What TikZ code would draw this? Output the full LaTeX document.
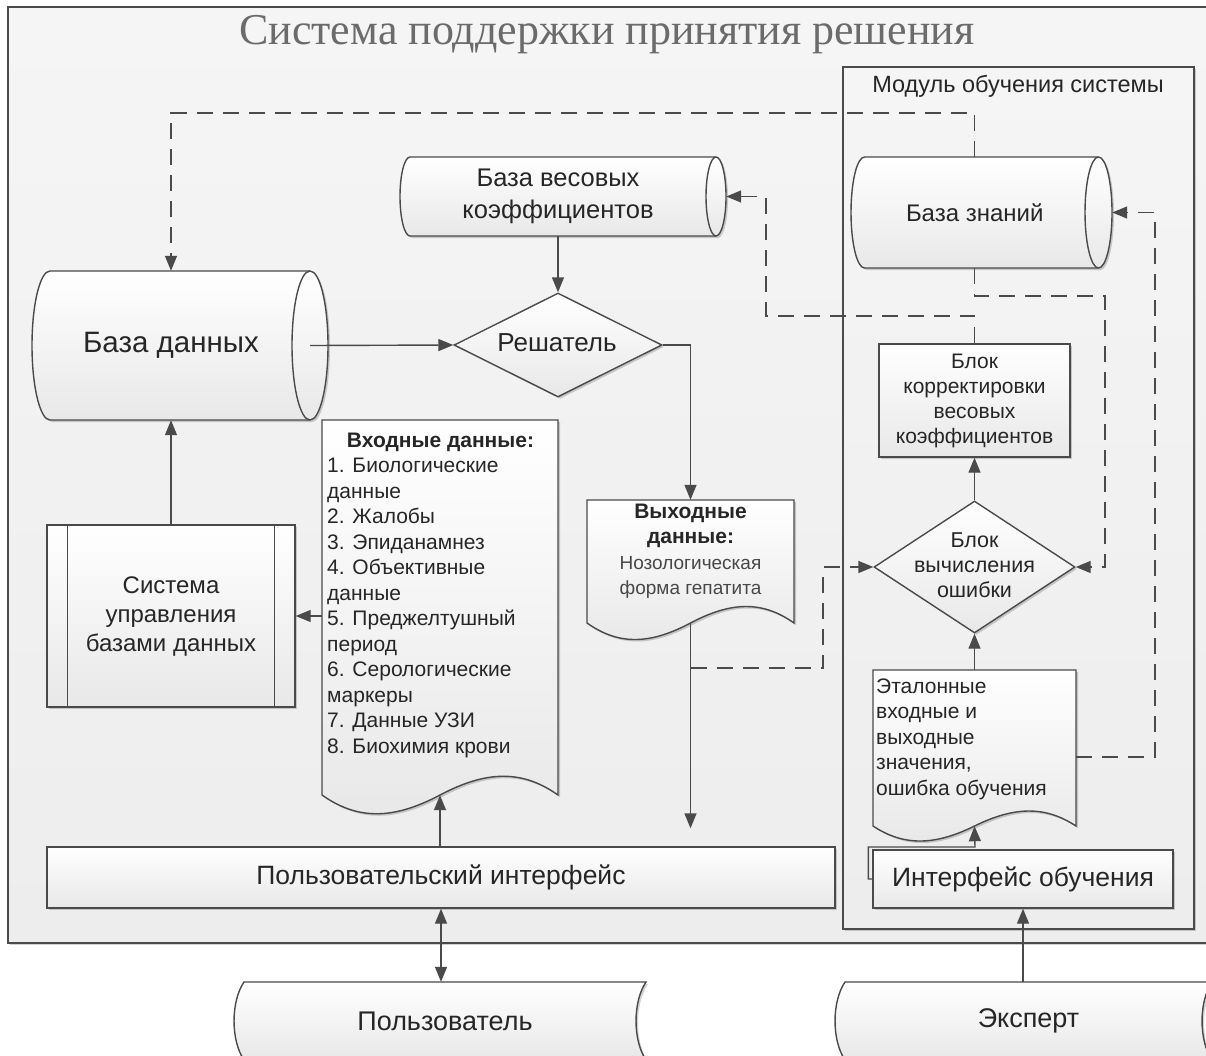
\documentclass[tikz,border=0pt]{standalone}
\usepackage{fontspec}
\setmainfont{Liberation Sans}
\newfontfamily\titlefont{Liberation Serif}
\usetikzlibrary{arrows.meta,shapes.geometric,calc,shadows}
\definecolor{lc}{HTML}{4A4A4A}
\definecolor{tc}{HTML}{262626}
\definecolor{gf}{HTML}{E8E8E8}
\definecolor{bgt}{HTML}{F5F5F5}
\definecolor{bgb}{HTML}{EDEDED}
\newcommand\fsz[2]{\fontsize{#1}{#2}\selectfont}
\tikzset{
  line/.style={draw=lc, line width=1.4pt},
  shd/.style={drop shadow={shadow xshift=2pt, shadow yshift=-2pt, opacity=0.18, fill=black}},
  shapefill/.style={top color=white, bottom color=gf, shd},
  txt/.style={text=tc, inner sep=0pt, align=center},
  arr/.style={line, -{Triangle[length=15pt,width=12pt]}},
  arrb/.style={line, {Triangle[length=15pt,width=12pt]}-{Triangle[length=15pt,width=12pt]}},
  dline/.style={line, dash pattern=on 16pt off 10pt},
  box/.style={line, shapefill, rectangle, inner sep=0pt, text=tc, align=center},
}
% cylinder: name, L, T, R, B, rx, options, text
\newcommand\cylnode[8]{%
  \path[line,shapefill] ({#2+#6},#3) .. controls ({#2+#6*0.4477},#3) and (#2,{(#3+#5)/2-0.5523*(#5-#3)/2}) .. (#2,{(#3+#5)/2})
    .. controls (#2,{(#3+#5)/2+0.5523*(#5-#3)/2}) and ({#2+#6*0.4477},#5) .. ({#2+#6},#5)
    -- ({#4-#6},#5) .. controls ({#4-#6*0.4477},#5) and (#4,{(#3+#5)/2+0.5523*(#5-#3)/2}) .. (#4,{(#3+#5)/2})
    .. controls (#4,{(#3+#5)/2-0.5523*(#5-#3)/2}) and ({#4-#6*0.4477},#3) .. ({#4-#6},#3) -- cycle;
  \draw[line] ({#4-#6},#3) .. controls ({#4-#6-0.5523*#6},#3) and ({#4-2*#6},{(#3+#5)/2-0.5523*(#5-#3)/2}) .. ({#4-2*#6},{(#3+#5)/2})
    .. controls ({#4-2*#6},{(#3+#5)/2+0.5523*(#5-#3)/2}) and ({#4-#6-0.5523*#6},#5) .. ({#4-#6},#5);
  \node[txt,#7,minimum width={(#4-#6-#2)*1pt},minimum height={(#5-#3)*1pt}] (#1) at ({(#2+#4-#6)/2},{(#3+#5)/2}) {#8};
}
% document: name, L, T, R, B, h
\newcommand\docnode[6]{%
  \path[line,shapefill] (#2,#3) -- (#4,#3) -- (#4,#5)
    .. controls ({#4-0.15*(#4-#2)},{#5-#6}) and ({#4-0.3*(#4-#2)},{#5-#6}) .. ({(#2+#4)/2},#5)
    .. controls ({#2+0.3*(#4-#2)},{#5+#6}) and ({#2+0.15*(#4-#2)},{#5+#6}) .. (#2,#5) -- cycle;
  \node[inner sep=0pt,minimum width={(#4-#2)*1pt},minimum height={(#5-#3)*1pt}] (#1) at ({(#2+#4)/2},{(#3+#5)/2}) {};
}
% stored data: name, L, T, R, B, bulge, text
\newcommand\storenode[7]{%
  \path[line,shapefill] (#2,#3) -- (#4,#3)
    .. controls ({#4-1.33*#6},{#3+(#5-#3)/4}) and ({#4-1.33*#6},{#5-(#5-#3)/4}) .. (#4,#5) -- (#2,#5)
    .. controls ({#2-1.33*#6},{#5-(#5-#3)/4}) and ({#2-1.33*#6},{#3+(#5-#3)/4}) .. (#2,#3) -- cycle;
  \node[txt,font=\fsz{27}{30},minimum width={(#4-#2)*1pt},minimum height={(#5-#3)*1pt}] (#1) at ({(#2+#4)/2},{(#3+#5)/2}) {#7};
}
\begin{document}
\begin{tikzpicture}[x=1pt,y=-1pt]
\useasboundingbox (0,0) rectangle (1206,1055);
% frames
\node[line, top color=bgt, bottom color=bgb, shd, minimum width=1207pt, minimum height=936pt, inner sep=0pt] (sys) at (611.5,475) {};
\node[font=\titlefont\fsz{44}{48}, text=tc!68, inner sep=0pt] (title) at (607,35) {Система поддержки принятия решения};
\node[line, top color=bgt, bottom color=bgb, shd, minimum width=351pt, minimum height=862pt, inner sep=0pt] (mod) at (1018.5,498) {};
\node[txt, font=\fsz{23.5}{26}] (modlab) at (1018,86) {Модуль обучения системы};

% cylinders
\cylnode{bvk}{400}{157}{726}{236}{10}{font=\fsz{25.5}{32}}{База весовых\\коэффициентов}
\cylnode{bz}{851}{157}{1112}{268}{13.5}{font=\fsz{24}{28}}{База знаний}
\cylnode{bd}{32}{271}{328}{420}{18}{font=\fsz{29.5}{34}}{База данных}

% diamonds
\node[line, shapefill, diamond, minimum width=208pt, minimum height=104pt, inner sep=0pt] (resh) at (558,345) {};
\node[txt, font=\fsz{26}{30}] (resh-t) at (557,343) {Решатель};
\node[line, shapefill, diamond, minimum width=201pt, minimum height=132pt, inner sep=0pt] (bvo) at (974.5,567) {};
\node[txt, font=\fsz{21.5}{25}] (bvo-t) at (974.5,565) {Блок\\вычисления\\ошибки};

% rectangles
\node[box, minimum width=248pt, minimum height=182pt, font=\fsz{24}{29}] (subd) at (171,616) {Система\\управления\\базами данных};
\draw[line] ([xshift=21pt]subd.north west) -- ([xshift=21pt]subd.south west);
\draw[line] ([xshift=-21pt]subd.north east) -- ([xshift=-21pt]subd.south east);
\node[box, minimum width=191pt, minimum height=113pt, font=\fsz{21}{25}] (bk) at (974.5,400.5) {Блок\\корректировки\\весовых\\коэффициентов};
\node[box, minimum width=788pt, minimum height=61pt, font=\fsz{26.5}{30}] (pi) at (441,877.5) {Пользовательский интерфейс};
\node[box, minimum width=300pt, minimum height=58pt, font=\fsz{26.5}{30}] (io) at (1023,879) {Интерфейс обучения};

% documents
\docnode{vh}{322}{420}{558}{795}{25}
\node[txt, font=\fsz{21}{25.5}\bfseries] (vh-h) at (440.5,442) {Входные данные:};
\node[txt, align=left, anchor=west, font=\fsz{21}{25.5}] (vh-l) at (327,608) {1. Биологические\\данные\\2. Жалобы\\3. Эпиданамнез\\4. Объективные\\данные\\5. Преджелтушный\\период\\6. Серологические\\маркеры\\7. Данные УЗИ\\8. Биохимия крови};
\docnode{vy}{587}{500}{794}{623}{22}
\node[txt, font=\fsz{21}{25}\bfseries] (vy-h) at (690.5,525.5) {Выходные\\данные:};
\node[txt, font=\fsz{19}{25}, text=tc!85] (vy-t) at (690.5,577.5) {Нозологическая\\форма гепатита};
\docnode{et}{873}{670}{1076}{826}{20}
\node[txt, align=left, anchor=west, font=\fsz{21}{25.5}] (et-t) at (876,739) {Эталонные\\входные и\\выходные\\значения,\\ошибка обучения};

% stored data
\storenode{user}{244}{982}{646}{1060}{10}{Пользователь}
\storenode{exp}{845}{982}{1212}{1060}{10}{Эксперт}

% helper coordinates
\coordinate (t1) at (171,113);
\coordinate (br) at (690.5,668);
\coordinate (c1) at (823,668);
\coordinate (c2) at (766,316);
\coordinate (c3) at (1105,296);
\coordinate (c4) at (1155,757);
\coordinate (c5) at (975,847);

% solid connectors
\draw[arr] (bvk.south) -- (resh.north);
\draw[arr] (bd.east) -- (resh.west);
\draw[arr] (resh.east) -| (vy.north);
\draw[arr] (vh.west |- subd.east) -- (subd.east);
\draw[arr] (subd.north) -- (bd.south);
\draw[arr] (vh.south |- pi.north) -- (vh.south);
\draw[arr] (vy.south) -- ([yshift=18pt]vy.south |- pi.north);
\draw[arr] (et.north) -- (bvo.south);
\draw[arr] (bvo.north) -- (bk.south);
\draw[arr] (io.west) -- ++(-4,0) |- (c5) -- (et.south);
\draw[arrb] (pi.south) -- (pi.south |- user.north);
\draw[arr] (io.south |- exp.north) -- (io.south);

% dashed connectors
\draw[dline, -{Triangle[length=15pt,width=12pt]}] (bz.north) |- (t1) -- (t1 |- bd.north);
\draw[dline, -{Triangle[length=15pt,width=12pt]}] (br) -- (c1) |- (bvo.west);
\draw[dline, -{Triangle[length=15pt,width=12pt]}] (bk.north) |- (c2) |- ([xshift=10pt]bvk.east);
\draw[dline, -{Triangle[length=15pt,width=12pt]}] (bz.south) |- (c3) |- (bvo.east);
\draw[dline, -{Triangle[length=15pt,width=12pt]}] (et.east |- c4) -- (c4) |- ([xshift=13.5pt]bz.east);
\end{tikzpicture}
\end{document}
